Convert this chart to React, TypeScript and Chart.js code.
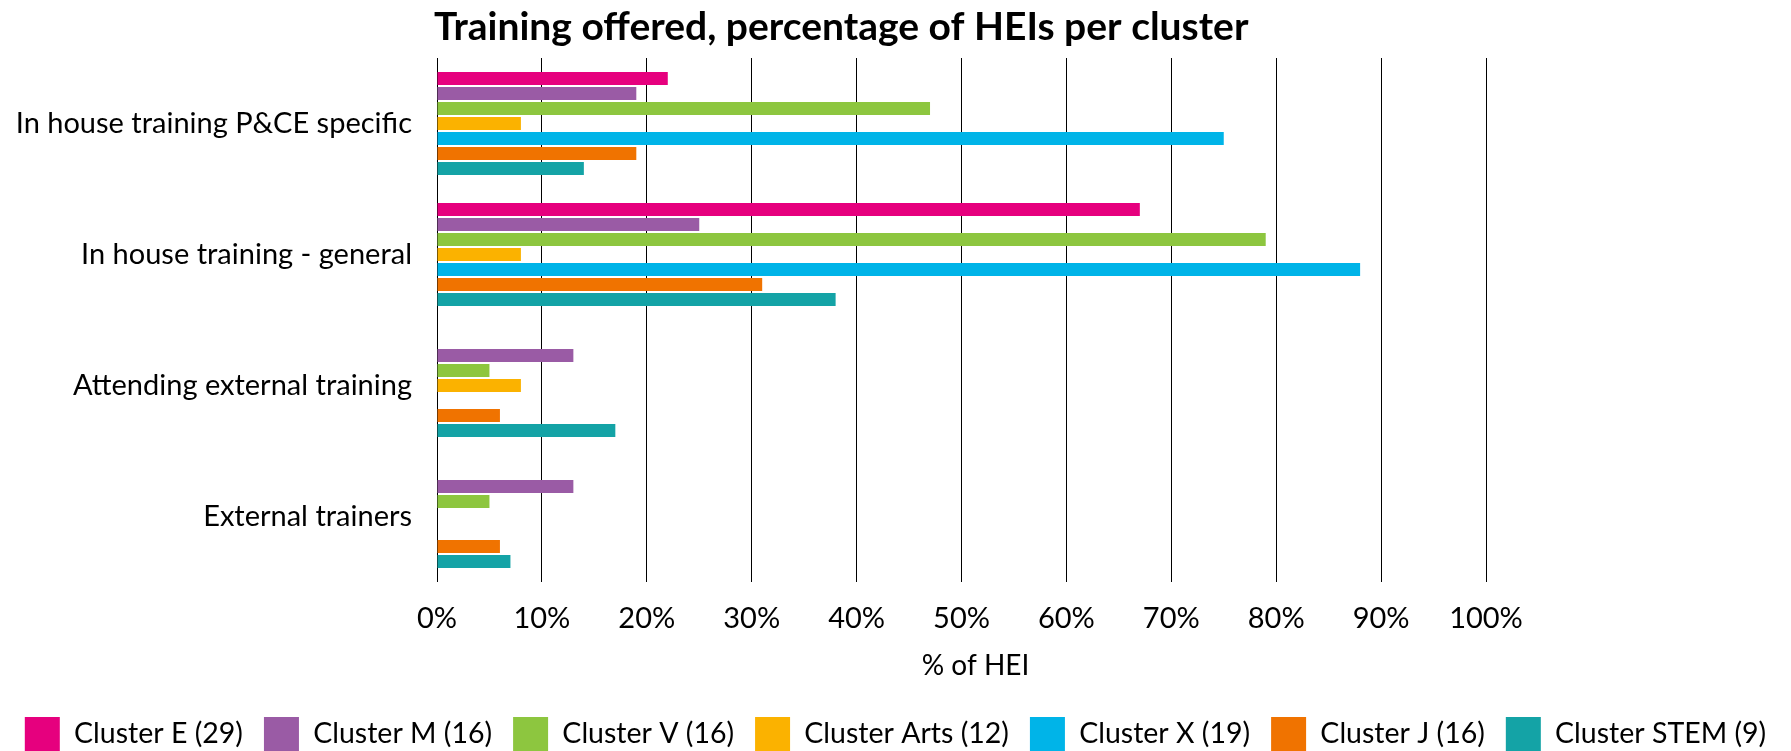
import React, { useEffect, useRef } from 'react';
import { Chart, registerables } from 'chart.js';

Chart.register(...registerables);

const TITLE = 'Training offered, percentage of HEIs per cluster';
const X_TITLE = '% of HEI';
const categories = [
  'In house training P&CE specific',
  'In house training - general',
  'Attending external training',
  'External trainers',
];
const seriesNames = [
  'Cluster E (29)',
  'Cluster M (16)',
  'Cluster V (16)',
  'Cluster Arts (12)',
  'Cluster X (19)',
  'Cluster J (16)',
  'Cluster STEM (9)',
];
const clusterE = [22, 67, 0, 0];
const clusterM = [19, 25, 13, 13];
const clusterV = [47, 79, 5, 5];
const clusterArts = [8, 8, 8, 0];
const clusterX = [75, 88, 0, 0];
const clusterJ = [19, 31, 6, 6];
const clusterSTEM = [14, 38, 17, 7];
const seriesColors = ['#E6007E', '#9A5BA5', '#8DC63F', '#FBB200', '#00B4E8', '#F07300', '#14A3A6'];
const xTickValues = [0, 10, 20, 30, 40, 50, 60, 70, 80, 90, 100];

const FONT = 'Lato';
const CANVAS_H = 761;

const textPlugin = {
  id: 'chartTexts',
  afterDraw(chart: any) {
    const { ctx, chartArea } = chart;
    const xScale = chart.scales.x;
    ctx.save();
    ctx.fillStyle = '#000';
    ctx.font = `bold 39px ${FONT}`;
    ctx.textAlign = 'left';
    ctx.textBaseline = 'alphabetic';
    ctx.fillText(TITLE, chartArea.left - 3, 40);
    ctx.font = `28px ${FONT}`;
    ctx.textAlign = 'center';
    ctx.textBaseline = 'middle';
    ctx.fillText(X_TITLE, (chartArea.left + chartArea.right) / 2 + 14, xScale.bottom - 30);
    ctx.restore();
  },
};

export default function App() {
  const ref = useRef<HTMLCanvasElement | null>(null);

  useEffect(() => {
    if (!ref.current) return;
    const allSeries = [clusterE, clusterM, clusterV, clusterArts, clusterX, clusterJ, clusterSTEM];
    const chart = new Chart(ref.current, {
      type: 'bar',
      data: {
        labels: categories,
        datasets: allSeries.map((d, i) => ({
          label: seriesNames[i],
          data: d,
          backgroundColor: seriesColors[i],
          borderWidth: 0,
          categoryPercentage: 0.8,
          barPercentage: 0.867,
        })),
      },
      options: {
        indexAxis: 'y',
        animation: false,
        responsive: false,
        maintainAspectRatio: false,
        layout: { padding: { top: 58, left: 0, right: 0, bottom: 0 } },
        plugins: {
          title: { display: false },
          tooltip: { enabled: false },
          legend: {
            display: true,
            position: 'bottom',
            labels: {
              boxWidth: 35,
              boxHeight: 34,
              padding: 21,
              color: '#000',
              font: { family: FONT, size: 28.5 },
            },
          },
        },
        scales: {
          x: {
            type: 'linear',
            min: 0,
            max: 100,
            afterBuildTicks: (scale: any) => {
              scale.ticks = xTickValues.map((v) => ({ value: v }));
            },
            afterFit: (scale: any) => {
              scale.height = 114;
            },
            ticks: {
              padding: 19,
              color: '#000',
              font: { family: FONT, size: 29 },
              callback: (v: any) => `${v}%`,
              maxRotation: 0,
            },
            grid: { display: true, color: '#000', lineWidth: 1, drawTicks: false },
            border: { display: false },
            title: { display: false },
          },
          y: {
            position: 'left',
            afterFit: (scale: any) => {
              scale.width = 437;
            },
            ticks: {
              padding: 25,
              color: '#000',
              font: { family: FONT, size: 29 },
            },
            grid: { display: false, drawTicks: false },
            border: { display: false },
          },
          yRight: {
            position: 'right',
            display: true,
            afterFit: (scale: any) => {
              scale.width = 305;
            },
            ticks: { display: false },
            grid: { display: false, drawTicks: false },
            border: { display: false },
          },
        },
      },
      plugins: [textPlugin],
    });
    return () => chart.destroy();
  }, []);

  return (
    <div style={{ position: 'fixed', left: 0, top: 0, width: 1791, height: 751, overflow: 'hidden', background: '#fff' }}>
      <canvas ref={ref} width={1791} height={CANVAS_H} style={{ display: 'block', width: 1791, height: CANVAS_H }} />
    </div>
  );
}
